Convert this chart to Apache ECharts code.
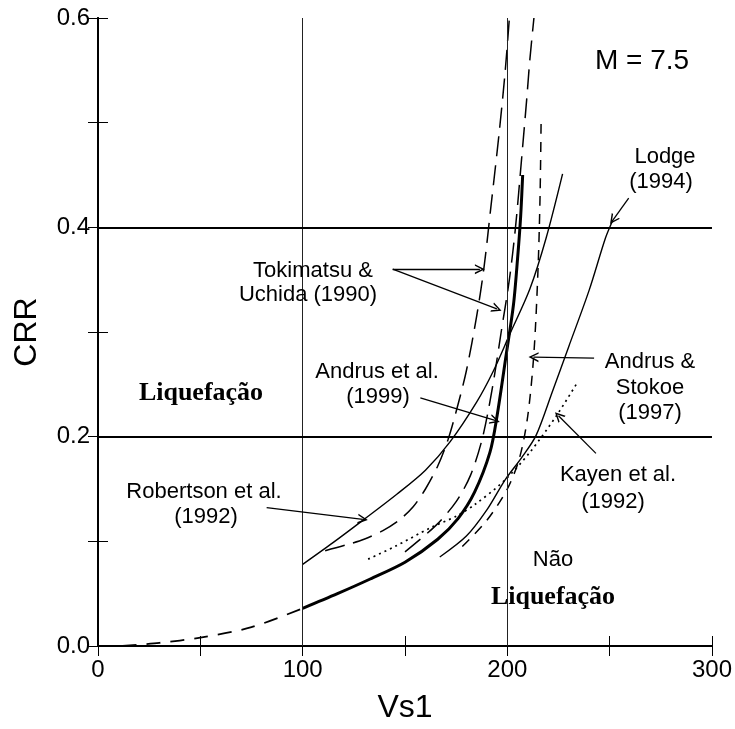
<!DOCTYPE html>
<html>
<head>
<meta charset="utf-8">
<script src="https://cdn.jsdelivr.net/npm/echarts@6/dist/echarts.min.js"></script>
<style>html,body{margin:0;padding:0;background:#fff}#c{width:735px;height:729px}</style>
</head>
<body>
<div id="c"></div>
<script>
// ---- data ----
const xTicks = [0, 100, 200, 300];
const yTicks = [0.0, 0.2, 0.4, 0.6];

const andrus99LowX = [12, 30, 50, 75, 100];
const andrus99LowY = [0.0, 0.003, 0.008, 0.018, 0.036];
const andrus99X = [100, 117, 133, 150, 166, 176, 184, 191.5, 195, 199.5, 203, 205, 206.5, 207.5];
const andrus99Y = [0.036, 0.050, 0.064, 0.080, 0.102, 0.122, 0.147, 0.185, 0.22, 0.279, 0.326, 0.37, 0.41, 0.45];

const robertsonX = [100, 115, 130, 146, 160, 172, 185, 193, 201, 211, 219, 227];
const robertsonY = [0.078, 0.099, 0.121, 0.145, 0.168, 0.195, 0.233, 0.262, 0.297, 0.341, 0.39, 0.451];

const kayenX = [132, 145, 162.5, 175, 184, 198, 211, 224, 234];
const kayenY = [0.083, 0.095, 0.113, 0.124, 0.135, 0.157, 0.185, 0.22, 0.251];

const lodgeX = [167, 180, 190, 199, 207, 214, 222, 230, 240, 248, 251.6];
const lodgeY = [0.085, 0.105, 0.13, 0.159, 0.18, 0.201, 0.243, 0.286, 0.34, 0.39, 0.407];

const toki1X = [111, 122, 130, 139, 147, 154, 160, 166, 171, 175, 180, 185, 188.5, 192, 196, 199, 201];
const toki1Y = [0.091, 0.097, 0.102, 0.110, 0.120, 0.133, 0.150, 0.172, 0.197, 0.224, 0.263, 0.315, 0.36, 0.42, 0.49, 0.55, 0.6];

const toki2X = [150, 165, 175, 182, 188, 193, 197, 201, 204, 207, 209.5, 211, 213];
const toki2Y = [0.09, 0.115, 0.138, 0.163, 0.2, 0.25, 0.3, 0.35, 0.40, 0.466, 0.523, 0.56, 0.6];

const stokoeX = [178, 190, 200, 206, 210, 213, 215, 216, 216.5];
const stokoeY = [0.095, 0.12, 0.15, 0.18, 0.22, 0.28, 0.36, 0.43, 0.50];

// arrows: [fromX, fromY, toX, toY]
const arrowToki1 = [144, 0.360, 186.6, 0.360];
const arrowToki2 = [144, 0.360, 194.9, 0.322];
const arrowAndrus99 = [157.5, 0.237, 194, 0.2155];
const arrowRobertson = [82.4, 0.1323, 129.4, 0.121];
const arrowStokoe = [242.4, 0.275, 212.8, 0.276];
const arrowKayen = [243.3, 0.184, 225, 0.220];
const arrowLodge = [259.3, 0.428, 251.6, 0.407];

const vGrid = [100, 200];
const hGrid = [0.2, 0.4];

// ---- chart ----
const pairs = (xs, ys) => xs.map((x, i) => [x, ys[i]]);
const SANS = '"Liberation Sans", Arial, Helvetica, sans-serif';
const SERIF = '"Liberation Serif", "Times New Roman", serif';
const CHEVRON = 'path://M0,10 L5,0 L10,10 L8.4,10 L5,3.2 L1.6,10 Z';

function lineSeries(name, xs, ys, type, width) {
  return {
    name, type: 'line', data: pairs(xs, ys), symbol: 'none', smooth: 0.3,
    lineStyle: { color: '#000', width: width, type: type, cap: 'butt' },
    silent: true, animation: false, z: 3
  };
}

function arrowLine(a) {
  return [{ coord: [a[0], a[1]], symbol: 'none' }, { coord: [a[2], a[3]], symbol: CHEVRON, symbolSize: [10, 10] }];
}

const gridLines = [];
vGrid.forEach(v => gridLines.push({ xAxis: v, lineStyle: { width: 1, color: '#222', type: 'solid' } }));
hGrid.forEach(v => gridLines.push({ yAxis: v, lineStyle: { width: 2, color: '#000', type: 'solid' } }));

const chart = echarts.init(document.getElementById('c'), null, { renderer: 'canvas' });

const commonAxisLine = { show: true, lineStyle: { color: '#000', width: 2 } };

function t(text, x, y, size, family, weight) {
  return {
    type: 'text', x: x, y: y, silent: true, z: 10,
    style: {
      text: text, fill: '#000', font: weight + ' ' + size + 'px ' + family,
      align: 'center', verticalAlign: 'middle', textAlign: 'center', textVerticalAlign: 'middle'
    }
  };
}

const option = {
  backgroundColor: '#fff',
  animation: false,
  grid: { left: 98, right: 18, top: 18, bottom: 76, containLabel: false },
  xAxis: [
    {
      type: 'value', min: 0, max: 300, interval: 50, position: 'bottom',
      name: 'Vs1', nameLocation: 'middle', nameGap: 46,
      nameTextStyle: { fontFamily: SANS, fontSize: 32, color: '#000' },
      axisLine: commonAxisLine,
      axisTick: { show: true, inside: true, length: 10, lineStyle: { color: '#000', width: 1 } },
      axisLabel: {
        fontFamily: SANS, fontSize: 24, color: '#000', margin: 12,
        formatter: v => (xTicks.indexOf(v) >= 0 ? String(v) : '')
      },
      splitLine: { show: false }
    },
    {
      type: 'value', min: 0, max: 300, interval: 50, position: 'top',
      axisLine: commonAxisLine,
      axisTick: { show: true, inside: true, length: 10, lineStyle: { color: '#000', width: 1 } },
      axisLabel: { show: false }, splitLine: { show: false }
    }
  ],
  yAxis: [
    {
      type: 'value', min: 0, max: 0.6, interval: 0.1, position: 'left',
      name: 'CRR', nameLocation: 'middle', nameGap: 55, nameRotate: 90,
      nameTextStyle: { fontFamily: SANS, fontSize: 32, color: '#000' },
      axisLine: commonAxisLine,
      axisTick: { show: true, inside: true, length: 10, lineStyle: { color: '#000', width: 1 } },
      axisLabel: {
        fontFamily: SANS, fontSize: 24, color: '#000', margin: 8,
        formatter: v => {
          const r = Math.round(v * 10) / 10;
          return yTicks.some(tk => Math.abs(tk - r) < 1e-9) ? r.toFixed(1) : '';
        }
      },
      splitLine: { show: false }
    },
    {
      type: 'value', min: 0, max: 0.6, interval: 0.1, position: 'right',
      axisLine: commonAxisLine,
      axisTick: { show: true, inside: true, length: 10, lineStyle: { color: '#000', width: 1 } },
      axisLabel: { show: false }, splitLine: { show: false }
    }
  ],
  series: [
    {
      name: 'grid', type: 'line', data: [], silent: true,
      markLine: { silent: true, symbol: 'none', label: { show: false }, animation: false, data: gridLines }
    },
    {
      name: 'arrows', type: 'line', data: [], silent: true,
      markLine: {
        silent: true, animation: false, label: { show: false },
        lineStyle: { color: '#000', width: 1.3, type: 'solid' },
        itemStyle: { color: '#000' },
        data: [arrowToki1, arrowToki2, arrowAndrus99, arrowRobertson, arrowStokoe, arrowKayen, arrowLodge].map(arrowLine)
      }
    },
    lineSeries('Andrus et al. (1999) low', andrus99LowX, andrus99LowY, [14, 10], 1.8),
    lineSeries('Andrus et al. (1999)', andrus99X, andrus99Y, 'solid', 3),
    lineSeries('Robertson et al. (1992)', robertsonX, robertsonY, 'solid', 1.4),
    lineSeries('Kayen et al. (1992)', kayenX, kayenY, [2, 4], 1.7),
    lineSeries('Lodge (1994)', lodgeX, lodgeY, 'solid', 1.4),
    lineSeries('Tokimatsu & Uchida (1990) a', toki1X, toki1Y, [20, 9], 1.5),
    lineSeries('Tokimatsu & Uchida (1990) b', toki2X, toki2Y, [20, 9], 1.5),
    lineSeries('Andrus & Stokoe (1997)', stokoeX, stokoeY, [10, 8], 1.5)
  ],
  graphic: [
    t('M = 7.5', 642, 61, 28, SANS, 'normal'),
    t('Lodge', 665, 157, 22, SANS, 'normal'),
    t('(1994)', 661, 182, 22, SANS, 'normal'),
    t('Tokimatsu &', 313, 271, 22, SANS, 'normal'),
    t('Uchida (1990)', 308, 295, 22, SANS, 'normal'),
    t('Andrus et al.', 377, 372, 22, SANS, 'normal'),
    t('(1999)', 378, 397, 22, SANS, 'normal'),
    t('Liquefação', 201, 393, 26, SERIF, 'bold'),
    t('Robertson et al.', 204, 492, 22, SANS, 'normal'),
    t('(1992)', 206, 517, 22, SANS, 'normal'),
    t('Andrus &', 650, 362, 22, SANS, 'normal'),
    t('Stokoe', 650, 388, 22, SANS, 'normal'),
    t('(1997)', 650, 413, 22, SANS, 'normal'),
    t('Kayen et al.', 618, 475, 22, SANS, 'normal'),
    t('(1992)', 613, 502, 22, SANS, 'normal'),
    t('Não', 553, 560, 22, SANS, 'normal'),
    t('Liquefação', 553, 597, 26, SERIF, 'bold')
  ]
};

chart.setOption(option);
</script>
</body>
</html>
